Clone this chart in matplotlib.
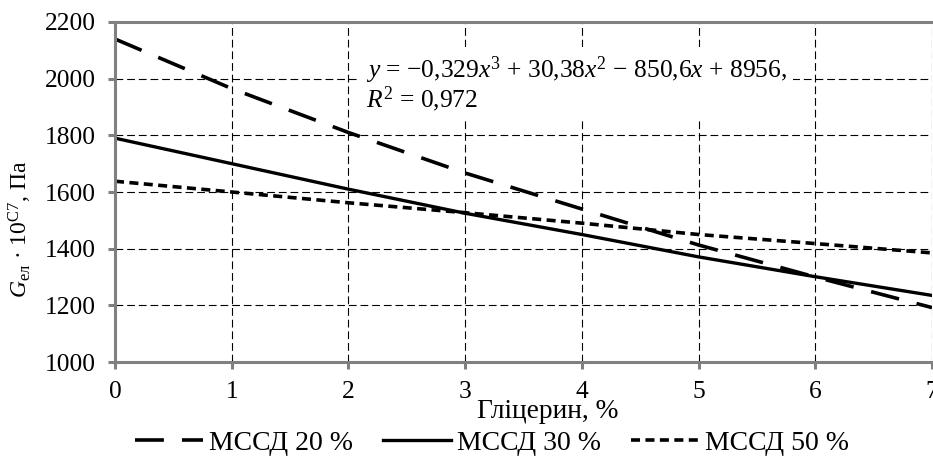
import matplotlib
matplotlib.use("Agg")
import matplotlib.pyplot as plt
from matplotlib.lines import Line2D

plt.rcParams['font.family'] = ['Liberation Serif', 'DejaVu Serif']
plt.rcParams['mathtext.fontset'] = 'custom'
plt.rcParams['mathtext.rm'] = 'Liberation Serif'
plt.rcParams['mathtext.it'] = 'Liberation Serif:italic'

glycerin = [0, 1, 2, 3, 4, 5, 6, 7]
series_labels = ["МССД 20 %", "МССД 30 %", "МССД 50 %"]
mssd20 = [2140, 1965, 1810, 1667, 1540, 1413, 1300, 1192]
mssd30 = [1790, 1700, 1610, 1525, 1450, 1371, 1301, 1235]
mssd50 = [1638, 1600, 1562, 1527, 1490, 1450, 1418, 1385]
yticks = [1000, 1200, 1400, 1600, 1800, 2000, 2200]
xticks = [0, 1, 2, 3, 4, 5, 6, 7]

W, H = 933, 463
fig = plt.figure(figsize=(W / 100, H / 100), dpi=100)
ax = fig.add_axes([115 / W, 1 - 362 / H, (932 - 115) / W, (362 - 22) / H])

ls20 = (0, (8, 5))
ls50 = (0, (2.5, 1.5))
ax.plot(glycerin, mssd20, color='black', lw=2.6, linestyle=ls20, label=series_labels[0])
ax.plot(glycerin, mssd30, color='black', lw=2.4, linestyle='-', label=series_labels[1])
ax.plot(glycerin, mssd50, color='black', lw=2.6, linestyle=ls50, label=series_labels[2])

ax.set_xlim(0, 7)
ax.set_ylim(1000, 2200)
ax.set_xticks(xticks)
ax.set_yticks(yticks)
ax.grid(True, color='black', linestyle=(0, (7, 3.5)), linewidth=0.8)
ax.set_axisbelow(True)

for s in ['left', 'bottom', 'top']:
    ax.spines[s].set_color('#808080')
    ax.spines[s].set_linewidth(2.2)
ax.spines['right'].set_visible(False)
ax.tick_params(axis='both', which='major', labelsize=18.4, color='#808080',
               width=2.2, length=5, direction='out', pad=9)
ax.tick_params(axis='x', top=False)

ax.text(0.307, 0.905,
        r"$y$ = −0,329$x^3$ + 30,38$x^2$ − 850,6$x$ + 8956," + "\n" + r"$R^2$ = 0,972",
        transform=ax.transAxes, fontsize=18.4, va='top', ha='left', linespacing=0.95,
        bbox=dict(facecolor='white', edgecolor='none', pad=4))

fig.text(548 / W, 1 - 411 / H, "Гліцерин, %", fontsize=19.7, ha='center', va='center')
fig.text(20 / W, 1 - 229 / H, r"$G_{\mathrm{ел}}$ · 10$^{\mathrm{С7}}$, Па", fontsize=17,
         rotation=90, ha='center', va='center')

handles = [Line2D([], [], color='black', lw=2.6, linestyle=ls20),
           Line2D([], [], color='black', lw=2.4, linestyle='-'),
           Line2D([], [], color='black', lw=2.6, linestyle=ls50)]
fig.legend(handles, series_labels, loc='center', bbox_to_anchor=(492 / W, 1 - 443 / H),
           ncol=3, frameon=False, fontsize=20, handlelength=2.45, handletextpad=0.2,
           columnspacing=1.1, borderpad=0)

fig.savefig("out.png", dpi=100)
